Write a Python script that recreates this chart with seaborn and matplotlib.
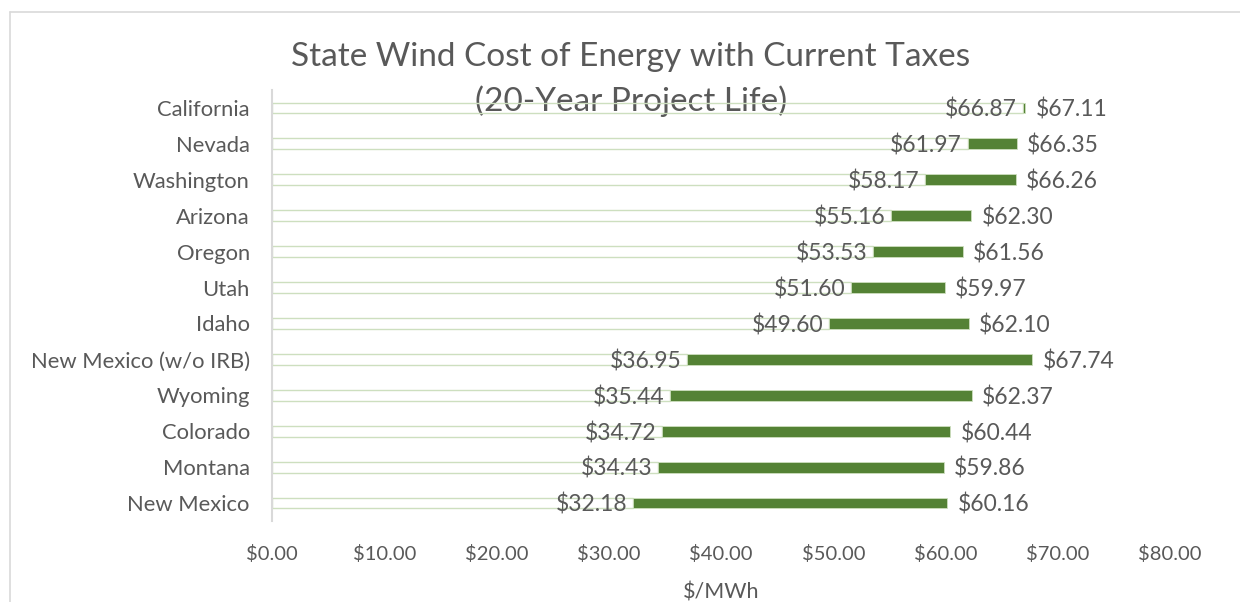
import seaborn as sns
import matplotlib.pyplot as plt
import pandas as pd
from matplotlib.lines import Line2D

states = ["California", "Nevada", "Washington", "Arizona", "Oregon", "Utah", "Idaho",
          "New Mexico (w/o IRB)", "Wyoming", "Colorado", "Montana", "New Mexico"]
low_cost = [66.87, 61.97, 58.17, 55.16, 53.53, 51.60, 49.60, 36.95, 35.44, 34.72, 34.43, 32.18]
high_cost = [67.11, 66.35, 66.26, 62.30, 61.56, 59.97, 62.10, 67.74, 62.37, 60.44, 59.86, 60.16]
x_ticks = [0, 10, 20, 30, 40, 50, 60, 70, 80]

GREEN = "#548235"
PALE = "#cddfbf"
GREY = "#595959"

sns.set_style("white")
plt.rcParams['font.family'] = ['Lato', 'DejaVu Sans']

df = pd.DataFrame({"state": states, "low": low_cost, "high": high_cost})
df["span"] = df["high"] - df["low"]

fig = plt.figure(figsize=(12.4, 6.02), dpi=100)
ax = fig.add_axes([272 / 1240, 1 - 521 / 602, (1170 - 272) / 1240, (521 - 90) / 602])
ax.set_facecolor("none")

# empty segment from 0 to the low value (outline only), then the cost range on top
sns.barplot(data=df, x="low", y="state", orient="h", fill=False, color=PALE,
            edgecolor=PALE, linewidth=1.0, width=0.3, ax=ax)
sns.barplot(data=df, x="span", y="state", orient="h", color=GREEN, saturation=1,
            edgecolor=PALE, linewidth=0.6, width=0.3, left=df["low"], ax=ax)

for i, (lo, hi) in enumerate(zip(low_cost, high_cost)):
    ax.text(lo - 0.5, i + 0.05, f"${lo:.2f}", ha="right", va="center", fontsize=16.5, color=GREY)
    ax.text(hi + 0.9, i + 0.05, f"${hi:.2f}", ha="left", va="center", fontsize=16.5, color=GREY)

ax.set_xlim(0, 80)
ax.set_ylim(11.5, -0.5)
ax.set_xticks(x_ticks)
ax.set_xticklabels([f"${v:.2f}" for v in x_ticks], fontsize=14.5, color=GREY)
ax.tick_params(axis="y", labelsize=15.8, labelcolor=GREY, length=0, pad=16)
ax.tick_params(axis="x", length=0, pad=17)
ax.set_ylabel("")
ax.set_xlabel("$/MWh", fontsize=15.5, color=GREY, labelpad=14)
for side in ["top", "right", "bottom"]:
    ax.spines[side].set_visible(False)
ax.spines["left"].set_color("#d9d9d9")
ax.spines["left"].set_linewidth(1.5)

fig.text(631 / 1240, 1 - 57 / 602, "State Wind Cost of Energy with Current Taxes",
         ha="center", va="center", fontsize=24, color=GREY, zorder=-1)
fig.text(631 / 1240, 1 - 101 / 602, "(20-Year Project Life)",
         ha="center", va="center", fontsize=24, color=GREY, zorder=-1)

# outer chart frame
fig.add_artist(Line2D([10 / 1240, 1], [1 - 12 / 602] * 2, color="#d9d9d9", lw=1.2))
fig.add_artist(Line2D([10 / 1240] * 2, [0, 1 - 12 / 602], color="#d9d9d9", lw=1.2))

plt.savefig("out.png", dpi=100)
